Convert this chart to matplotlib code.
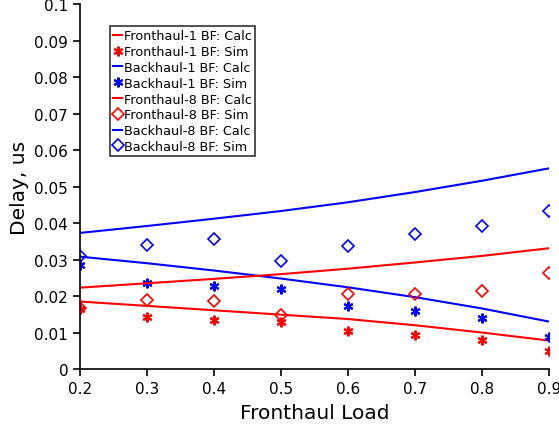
import matplotlib
matplotlib.use('Agg')
import matplotlib.pyplot as plt

load = [0.2, 0.3, 0.4, 0.5, 0.6, 0.7, 0.8, 0.9]

# calculated curves
fh1_calc = [0.0185, 0.0173, 0.0161, 0.0149, 0.0137, 0.0120, 0.0100, 0.0078]
bh1_calc = [0.0308, 0.0290, 0.0270, 0.0248, 0.0224, 0.0197, 0.0166, 0.0130]
fh8_calc = [0.0223, 0.0235, 0.0247, 0.0260, 0.0275, 0.0292, 0.0310, 0.0331]
bh8_calc = [0.0373, 0.0392, 0.0412, 0.0433, 0.0457, 0.0485, 0.0516, 0.0550]

# simulated points
fh1_sim = [0.0164, 0.0142, 0.0135, 0.0128, 0.0104, 0.0093, 0.0080, 0.0049]
bh1_sim = [0.0284, 0.0237, 0.0227, 0.0220, 0.0172, 0.0159, 0.0139, 0.0088]
fh8_sim = [0.0166, 0.0189, 0.0186, 0.0149, 0.0205, 0.0205, 0.0213, 0.0263]
bh8_sim = [0.0310, 0.0339, 0.0357, 0.0296, 0.0338, 0.0370, 0.0392, 0.0434]

x_ticks = [0.2, 0.3, 0.4, 0.5, 0.6, 0.7, 0.8, 0.9]
x_labels = ['0.2', '0.3', '0.4', '0.5', '0.6', '0.7', '0.8', '0.9']
y_ticks = [0, 0.01, 0.02, 0.03, 0.04, 0.05, 0.06, 0.07, 0.08, 0.09, 0.1]
y_labels = ['0', '0.01', '0.02', '0.03', '0.04', '0.05', '0.06', '0.07', '0.08', '0.09', '0.1']

fig = plt.figure(figsize=(5.59, 4.31), dpi=100)
ax = fig.add_axes([0.143, 0.1415, 0.839, 0.8465])

star = (6, 2, 0)
ax.plot(load, fh1_calc, color='red', lw=1.5, label='Fronthaul-1 BF: Calc')
ax.plot(load, fh1_sim, ls='none', marker=star, ms=7, mew=1.5, color='red', label='Fronthaul-1 BF: Sim')
ax.plot(load, bh1_calc, color='blue', lw=1.5, label='Backhaul-1 BF: Calc')
ax.plot(load, bh1_sim, ls='none', marker=star, ms=7, mew=1.5, color='blue', label='Backhaul-1 BF: Sim')
ax.plot(load, fh8_calc, color='red', lw=1.5, label='Fronthaul-8 BF: Calc')
ax.plot(load, fh8_sim, ls='none', marker='D', ms=6.3, mew=1.2, mfc='none', color='red', label='Fronthaul-8 BF: Sim')
ax.plot(load, bh8_calc, color='blue', lw=1.5, label='Backhaul-8 BF: Calc')
ax.plot(load, bh8_sim, ls='none', marker='D', ms=6.3, mew=1.2, mfc='none', color='blue', label='Backhaul-8 BF: Sim')

ax.set_xlim(0.2, 0.9)
ax.set_ylim(0, 0.1)
ax.set_xticks(x_ticks)
ax.set_xticklabels(x_labels)
ax.set_yticks(y_ticks)
ax.set_yticklabels(y_labels)
ax.tick_params(direction='out', length=5, width=1.2, labelsize=11)
for s in ['top', 'right']:
    ax.spines[s].set_visible(False)
for s in ['left', 'bottom']:
    ax.spines[s].set_linewidth(1.2)

ax.set_xlabel('Fronthaul Load', fontsize=14.5, labelpad=5)
ax.set_ylabel('Delay, us', fontsize=14.5, labelpad=4)

leg = ax.legend(loc='upper left', bbox_to_anchor=(0.064, 0.94), borderaxespad=0,
                fontsize=9.2, handlelength=0.7, handletextpad=0.15, labelspacing=0.22,
                fancybox=False, framealpha=1, borderpad=0.25)
leg.get_frame().set_edgecolor('#333333')
leg.get_frame().set_linewidth(1.2)

plt.savefig('out.png', dpi=100)
